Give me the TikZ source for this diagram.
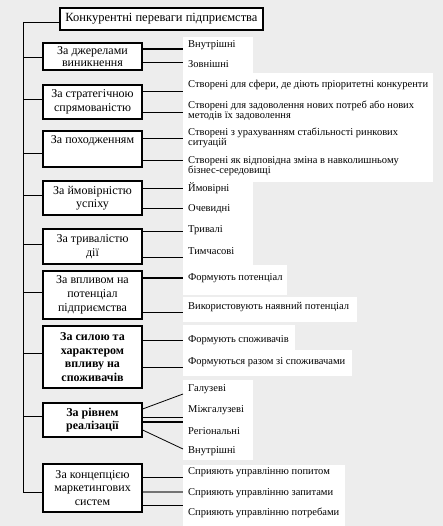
\documentclass[tikz,border=0pt]{standalone}
\usepackage{fontspec}
\setmainfont{Liberation Serif}
\usetikzlibrary{calc}
\begin{document}
\begin{tikzpicture}[x=1pt,y=-1pt,
  catbox/.style={draw=black,line width=1.2pt,fill=white,align=center,minimum width=99pt,inner sep=1pt,font=\fontsize{12}{13.5}\selectfont},
  item/.style={anchor=west,inner xsep=5pt,inner ysep=0pt,align=left,font=\fontsize{10.5}{10}\selectfont},
  link/.style={draw=black,line width=0.8pt},
  whitebg/.style={fill=white,draw=none}]
\fill[black!7] (0,0) rectangle (443,526);
\useasboundingbox (0,0) rectangle (443,526);
% white panels
\fill[whitebg] (183,37) rectangle (253,73);
\fill[whitebg] (183,73) rectangle (433,182);
\fill[whitebg] (183,182) rectangle (253,265);
\fill[whitebg] (183,265) rectangle (287,295);
\fill[whitebg] (183,297) rectangle (357,322);
\fill[whitebg] (183,325) rectangle (295,350);
\fill[whitebg] (183,350) rectangle (352,376);
\fill[whitebg] (183,380) rectangle (253,460);
\fill[whitebg] (183,465) rectangle (345,526);
% title and category boxes
\node[draw=black,line width=1.4pt,fill=white,minimum width=203pt,minimum height=22pt,inner sep=1pt,font=\fontsize{12.5}{13}\selectfont] (title) at (161.5,19) {Конкурентні переваги підприємства};
\node[catbox,minimum height=27pt,font=\fontsize{12}{11.5}\selectfont] (b1) at (92.5,56.5) {За джерелами\\виникнення};
\node[catbox,minimum height=34pt] (b2) at (92.5,102) {За стратегічною\\спрямованістю};
\node[catbox,minimum height=36pt,text depth=18pt] (b3) at (92.5,149) {За походженням};
\node[catbox,minimum height=34pt] (b4) at (92.5,198) {За ймовірністю\\успіху};
\node[catbox,minimum height=35pt] (b5) at (92.5,246.5) {За тривалістю\\дії};
\node[catbox,minimum height=48pt,font=\fontsize{12}{14}\selectfont] (b6) at (92.5,295) {За впливом на\\потенціал\\підприємства};
\node[catbox,minimum height=62pt,font=\fontsize{12}{13.5}\selectfont\bfseries] (b7) at (92.5,357) {За силою та\\характером\\впливу на\\споживачів};
\node[catbox,minimum height=34pt,font=\fontsize{12}{13}\selectfont\bfseries] (b8) at (92.5,420) {За рівнем\\реалізації};
\node[catbox,minimum height=48pt] (b9) at (92.5,488) {За концепцією\\маркетингових\\систем};
% trunk
\coordinate (ttop) at (23,22);
\coordinate (tbot) at (23,492);
\draw[link] (ttop) -- (title.west |- ttop);
\draw[link] (ttop) -- (tbot);
\foreach \b/\y in {b1/57,b2/99,b3/153,b4/195,b5/244,b6/292,b7/353,b8/416,b9/492}
  \draw[link] (23,\y) -- (\b.west |- 0,\y);
% items
\node[item] (t11) at (183,45) {Внутрішні};
\node[item] (t12) at (183,64) {Зовнішні};
\node[item] (t21) at (183,85) {Створені для сфери, де діють пріоритетні конкуренти};
\node[item] (t22) at (183,111) {Створені для задоволення нових потреб або нових\\методів їх задоволення};
\node[item] (t31) at (183,138) {Створені з урахуванням стабільності ринкових\\ситуацій};
\node[item] (t32) at (183,166) {Створені як відповідна зміна в навколишньому\\бізнес-середовищі};
\node[item] (t41) at (183,188) {Ймовірні};
\node[item] (t42) at (183,209) {Очевидні};
\node[item] (t51) at (183,230) {Тривалі};
\node[item] (t52) at (183,251) {Тимчасові};
\node[item] (t61) at (183,278) {Формують потенціал};
\node[item] (t62) at (183,307) {Використовують наявний потенціал};
\node[item] (t71) at (183,340) {Формують споживачів};
\node[item] (t72) at (183,362) {Формуються разом зі споживачами};
\node[item] (t81) at (183,389) {Галузеві};
\node[item] (t82) at (183,410) {Міжгалузеві};
\node[item] (t83) at (183,431) {Регіональні};
\node[item] (t84) at (183,451) {Внутрішні};
\node[item] (t91) at (183,472) {Сприяють управлінню попитом};
\node[item] (t92) at (183,493) {Сприяють управлінню запитами};
\node[item] (t93) at (183,513) {Сприяють управлінню потребами};
% connectors
\draw[link,line width=1.5pt] (b1.east |- 0,49) -- (t11.west |- 0,49);
\draw[link] (b1.east |- 0,62) -- (t12.west |- 0,62);
\draw[link] (b2.east |- 0,91) -- (t21.west |- 0,91);
\draw[link] (b2.east |- 0,112) -- (t22.west |- 0,112);
\draw[link] (b3.east |- 0,138) -- (t31.west |- 0,138);
\draw[link] (b3.east |- 0,160) -- (t32.west |- 0,160);
\draw[link] (b4.east |- 0,188) -- (t41.west |- 0,188);
\draw[link] (b4.east |- 0,208) -- (t42.west |- 0,208);
\draw[link] (b5.east |- 0,231) -- (t51.west |- 0,231);
\draw[link] (b5.east |- 0,257) -- (t52.west |- 0,257);
\draw[link,line width=1.5pt] (b6.east |- 0,278) -- (t61.west |- 0,278);
\draw[link] (b6.east |- 0,312) -- (t62.west |- 0,312);
\draw[link] (b7.east |- 0,340) -- (t71.west |- 0,340);
\draw[link] (b7.east |- 0,367) -- (t72.west |- 0,367);
\draw[link] (b8.east |- 0,409) -- (t81.west |- 0,394);
\draw[link] (b8.east |- 0,417) -- (t82.west |- 0,417);
\draw[link,line width=1.5pt] (b8.east |- 0,422) -- (t83.west |- 0,422);
\draw[link] (b8.east |- 0,430) -- (t84.west |- 0,449);
\draw[link] (b9.east |- 0,477) -- (t91.west |- 0,477);
\draw[link,line width=1.6pt,draw=black!55] (b9.east |- 0,492) -- (t92.west |- 0,492);
\draw[link] (b9.east |- 0,505) -- (t93.west |- 0,505);
\end{tikzpicture}
\end{document}
